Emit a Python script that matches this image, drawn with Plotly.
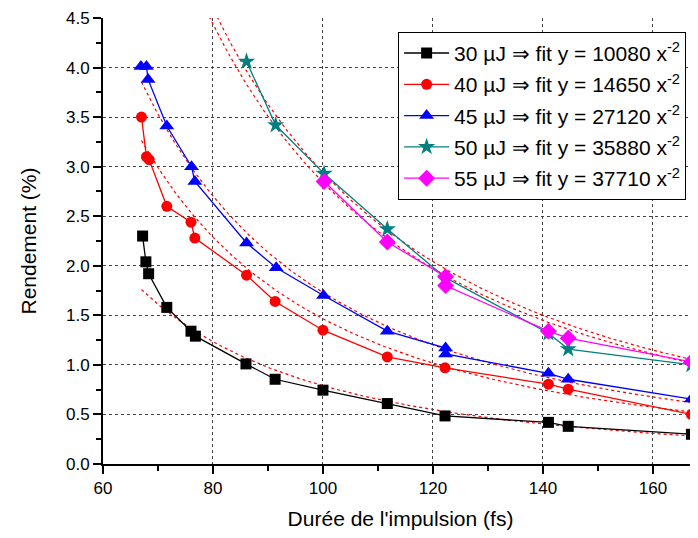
import numpy as np
import plotly.graph_objects as go

# ---- data ----
x30 = [67.2, 67.8, 68.3, 71.6, 76.0, 76.8, 86.0, 91.3, 100.0, 111.7, 122.2, 141.0, 144.6, 167.0]
y30 = [2.30, 2.04, 1.92, 1.58, 1.34, 1.29, 1.01, 0.855, 0.745, 0.61, 0.485, 0.42, 0.38, 0.30]

x40 = [67.0, 67.9, 68.4, 71.6, 76.0, 76.7, 86.1, 91.3, 100.0, 111.7, 122.2, 141.0, 144.6, 167.0]
y40 = [3.50, 3.10, 3.07, 2.60, 2.44, 2.28, 1.905, 1.64, 1.35, 1.08, 0.97, 0.805, 0.755, 0.50]

x45 = [66.9, 67.9, 68.2, 71.6, 76.1, 76.7, 86.1, 91.5, 100.1, 111.7, 122.3, 122.3, 141.0, 144.6, 167.0]
y45 = [4.01, 4.01, 3.88, 3.41, 3.00, 2.85, 2.23, 1.98, 1.70, 1.34, 1.17, 1.11, 0.915, 0.855, 0.655]

x50 = [86.1, 91.4, 100.2, 111.7, 122.3, 141.0, 144.6, 167.0]
y50 = [4.06, 3.42, 2.93, 2.37, 1.88, 1.32, 1.16, 1.00]

x55 = [100.2, 111.7, 122.3, 122.3, 141.0, 144.6, 167.0]
y55 = [2.85, 2.24, 1.89, 1.80, 1.34, 1.27, 1.03]

series_names = [
    "30 µJ ⇒ fit y = 10080 x<sup>-2</sup>",
    "40 µJ ⇒ fit y = 14650 x<sup>-2</sup>",
    "45 µJ ⇒ fit y = 27120 x<sup>-2</sup>",
    "50 µJ ⇒ fit y = 35880 x<sup>-2</sup>",
    "55 µJ ⇒ fit y = 37710 x<sup>-2</sup>",
]
# coefficients of the drawn dashed fit curves (y = A x^-2)
fit_coef = [7900, 14650, 17300, 28400, 29400]
fit_xmin = 67.0
fit_xmax = 167.0

xs = [x30, x40, x45, x50, x55]
ys = [y30, y40, y45, y50, y55]
colors = ["#000000", "#ff0000", "#0000ff", "#008080", "#ff00ff"]
symbols = ["square", "circle", "triangle-up", "star", "diamond"]
msizes = [11, 11, 13, 13, 13]

x_ticks = [60, 80, 100, 120, 140, 160]
y_ticks = [0.0, 0.5, 1.0, 1.5, 2.0, 2.5, 3.0, 3.5, 4.0, 4.5]

FONT = "Liberation Sans, Arial, sans-serif"

fig = go.Figure()

# fit curves
xf = np.linspace(fit_xmin, fit_xmax, 300)
for A in fit_coef:
    fig.add_trace(go.Scatter(x=xf, y=A / xf**2, mode="lines",
                             line=dict(color="#ff0000", width=1.2, dash="dot"),
                             showlegend=False, hoverinfo="skip"))

for i in range(5):
    fig.add_trace(go.Scatter(
        x=xs[i], y=ys[i], mode="lines+markers", name=series_names[i],
        legendgroup=str(i),
        line=dict(color=colors[i], width=1.3),
        marker=dict(symbol=symbols[i], size=msizes[i], color=colors[i],
                    line=dict(width=0)),
    ))

axis_common = dict(showline=True, linecolor="black", linewidth=2,
                   zeroline=False, showgrid=True, gridcolor="#444",
                   griddash="dot", gridwidth=1, automargin=False,
                   tickfont=dict(family=FONT, size=17, color="black"))

# page body has an 8px margin: size/margins compensate so the plot area
# lands where the reference has it
fig.update_layout(
    width=690, height=530,
    margin=dict(l=95, r=0, t=10, b=74),
    paper_bgcolor="white", plot_bgcolor="white",
    font=dict(family=FONT, color="black"),
    xaxis=dict(range=[60, 168.2], tickvals=x_ticks, ticks="outside",
               ticklen=8, tickwidth=1.5, tickcolor="black",
               minor=dict(ticks="outside", dtick=10, tick0=0, ticklen=5,
                          tickwidth=1.5, tickcolor="black", showgrid=False),
               title=dict(text="Durée de l'impulsion (fs)",
                          font=dict(family=FONT, size=21), standoff=14),
               **axis_common),
    yaxis=dict(range=[0, 4.5], tickvals=y_ticks, tickformat=".1f",
               ticks="outside", ticklen=8, tickwidth=1.5, tickcolor="black",
               minor=dict(ticks="outside", dtick=0.25, tick0=0, ticklen=5,
                          tickwidth=1.5, tickcolor="black", showgrid=False),
               title=dict(text="Rendement (%)",
                          font=dict(family=FONT, size=21), standoff=24),
               **axis_common),
    xaxis2=dict(overlaying="x", side="top", anchor="y", range=[60, 168.2],
                tickvals=x_ticks, ticks="inside", ticklen=8, tickwidth=1.5,
                tickcolor="black", showticklabels=False, showgrid=False,
                showline=True, linecolor="black", linewidth=2, automargin=False,
                minor=dict(ticks="inside", dtick=10, tick0=0, ticklen=5,
                           tickwidth=1.5, tickcolor="black")),
    yaxis2=dict(overlaying="y", side="right", anchor="x", range=[0, 4.5],
                tickvals=y_ticks, ticks="inside", ticklen=8, tickwidth=1.5,
                tickcolor="black", showticklabels=False, showgrid=False,
                showline=True, linecolor="black", linewidth=2, automargin=False,
                minor=dict(ticks="inside", dtick=0.25, tick0=0, ticklen=5,
                           tickwidth=1.5, tickcolor="black")),
    legend=dict(x=0.496, y=0.969, xanchor="left", yanchor="top",
                bgcolor="white", bordercolor="black", borderwidth=1,
                font=dict(family=FONT, size=21, color="black"),
                tracegroupgap=1, itemwidth=45),
)

fig.write_html("out.html")
